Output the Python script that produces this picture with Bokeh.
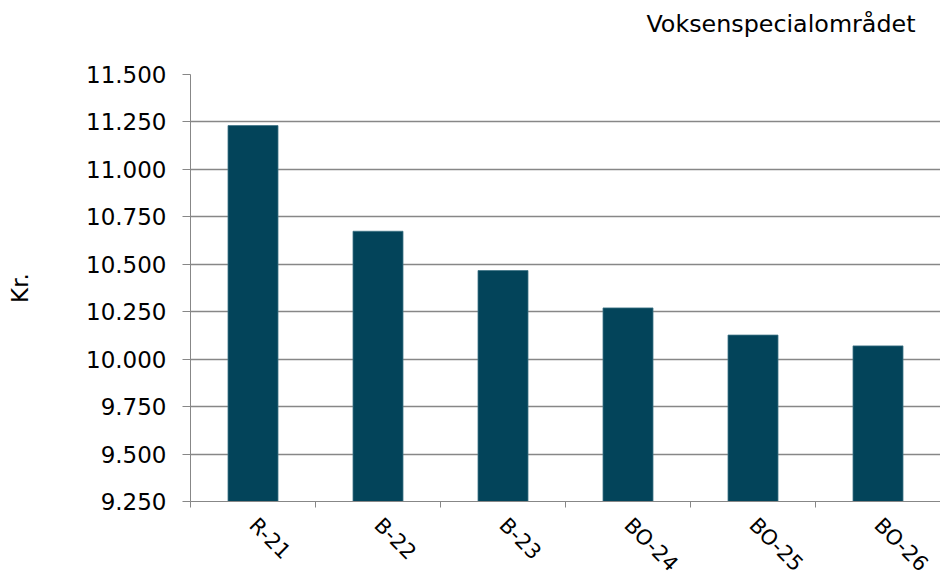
import math
from bokeh.plotting import figure
from bokeh.models import Range1d, FixedTicker, ColumnDataSource
from bokeh.embed import file_html
from bokeh.resources import INLINE

categories = ["R-21", "B-22", "B-23", "BO-24", "BO-25", "BO-26"]
values = [11231, 10674, 10467, 10270, 10127, 10070]
y_ticks = [9250, 9500, 9750, 10000, 10250, 10500, 10750, 11000, 11250, 11500]
y_tick_labels = ["9.250", "9.500", "9.750", "10.000", "10.250", "10.500",
                 "10.750", "11.000", "11.250", "11.500"]
title_text = "Voksenspecialområdet"
y_title = "Kr."

FONT = "DejaVu Sans"
GRAY = "#878787"
BAR = "#03445a"

x_centers = [i + 0.5 for i in range(len(categories))]
x_bounds = list(range(len(categories) + 1))
base = y_ticks[0]

src = ColumnDataSource(dict(x=x_centers, top=values, cat=categories))

p = figure(frame_width=750, frame_height=427, output_backend="svg", toolbar_location=None,
           x_range=Range1d(0, len(categories)), y_range=Range1d(y_ticks[0], y_ticks[-1]),
           min_border_left=190, min_border_right=0, min_border_top=74, min_border_bottom=76)
p.outline_line_color = None
p.background_fill_color = "white"
p.border_fill_color = "white"

p.vbar(x="x", top="top", bottom=base, width=0.4, source=src,
       fill_color=BAR, line_color="#3f7386", line_width=0.8)

# title (a trailing empty line lifts it towards the top of the page)
p.title.text = title_text + "\n"
p.title.align = "right"
p.title.vertical_align = "top"
p.title.text_font = FONT
p.title.text_font_style = "normal"
p.title.text_font_size = "23.8px"
p.title.text_color = "black"
p.title.offset = 25
p.title.standoff = 13

# y axis
ya = p.yaxis[0]
ya.ticker = FixedTicker(ticks=y_ticks)
ya.major_label_overrides = {t: l for t, l in zip(y_ticks, y_tick_labels)}
ya.major_label_text_font = FONT
ya.major_label_text_font_size = "23px"
ya.major_label_text_color = "black"
ya.major_tick_out = 8
ya.major_tick_in = 0
ya.minor_tick_line_color = None
ya.major_tick_line_color = GRAY
ya.axis_line_color = GRAY
ya.major_label_standoff = 16
ya.axis_label = y_title
ya.axis_label_text_font = FONT
ya.axis_label_text_font_style = "normal"
ya.axis_label_text_font_size = "23px"
ya.axis_label_text_color = "black"
ya.axis_label_standoff = 50

# x axis: labels at category centres, tick marks at category boundaries
xa = p.xaxis[0]
xa.ticker = FixedTicker(ticks=x_centers, minor_ticks=x_bounds)
xa.major_label_overrides = {x: c for x, c in zip(x_centers, categories)}
xa.major_label_orientation = -math.pi / 4
xa.major_label_text_font = FONT
xa.major_label_text_font_size = "21px"
xa.major_label_text_color = "black"
xa.major_tick_out = 0
xa.major_tick_in = 0
xa.major_tick_line_color = None
xa.minor_tick_out = 6
xa.minor_tick_in = 0
xa.minor_tick_line_color = GRAY
xa.axis_line_color = GRAY
xa.major_label_standoff = 14

p.xgrid.grid_line_color = None
p.ygrid.ticker = FixedTicker(ticks=y_ticks)
p.ygrid.grid_line_color = GRAY
p.ygrid.grid_line_width = 1.5

open("out.html", "w").write(file_html(p, INLINE))
